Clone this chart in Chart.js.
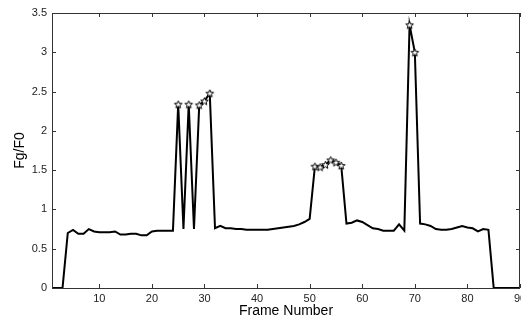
<!DOCTYPE html>
<html>
<head>
<meta charset="utf-8">
<script src="https://cdn.jsdelivr.net/npm/chart.js@4.4.1/dist/chart.umd.min.js"></script>
<style>
  html, body { margin: 0; padding: 0; background: #fff; overflow: hidden; }
</style>
</head>
<body>
<canvas id="fgChart" width="521" height="320"></canvas>
<script>
// Frame numbers (x) and Fg/F0 ratio (y)
const frames = [
   1,  2,  3,  4,  5,  6,  7,  8,  9, 10,
  11, 12, 13, 14, 15, 16, 17, 18, 19, 20,
  21, 22, 23, 24, 25, 26, 27, 28, 29, 30,
  31, 32, 33, 34, 35, 36, 37, 38, 39, 40,
  41, 42, 43, 44, 45, 46, 47, 48, 49, 50,
  51, 52, 53, 54, 55, 56, 57, 58, 59, 60,
  61, 62, 63, 64, 65, 66, 67, 68, 69, 70,
  71, 72, 73, 74, 75, 76, 77, 78, 79, 80,
  81, 82, 83, 84, 85, 86, 87, 88, 89, 90
];
const ratio = [
  0, 0, 0, 0.70, 0.74, 0.69, 0.69, 0.75, 0.72, 0.71,
  0.71, 0.71, 0.72, 0.68, 0.68, 0.69, 0.69, 0.67, 0.67, 0.72,
  0.73, 0.73, 0.73, 0.73, 2.34, 0.75, 2.34, 0.75, 2.33, 2.38,
  2.48, 0.76, 0.79, 0.76, 0.76, 0.75, 0.75, 0.74, 0.74, 0.74,
  0.74, 0.74, 0.75, 0.76, 0.77, 0.78, 0.79, 0.81, 0.84, 0.88,
  1.55, 1.54, 1.57, 1.63, 1.60, 1.56, 0.82, 0.83, 0.86, 0.84,
  0.80, 0.76, 0.75, 0.73, 0.73, 0.73, 0.81, 0.73, 3.35, 3.00,
  0.82, 0.81, 0.79, 0.75, 0.74, 0.74, 0.75, 0.77, 0.79, 0.77,
  0.76, 0.72, 0.75, 0.74, 0, 0, 0, 0, 0, 0
];
// frames marked with a pentagram
const peakFrames = [25, 27, 29, 30, 31, 51, 52, 53, 54, 55, 56, 69, 70];

const xTicks = [10, 20, 30, 40, 50, 60, 70, 80, 90];
const yTicks = [0, 0.5, 1, 1.5, 2, 2.5, 3, 3.5];

// MATLAB-like pentagram marker
function makeStar(r) {
    const size = Math.ceil(r * 2 + 3);
    const c = document.createElement('canvas');
    c.width = size; c.height = size;
    const ctx = c.getContext('2d');
    const cx = size / 2, cy = size / 2 + 0.5;
    ctx.beginPath();
    for (let i = 0; i < 10; i++) {
        const rr = i % 2 === 0 ? r : r * 0.42;
        const a = -Math.PI / 2 + i * Math.PI / 5;
        const px = cx + rr * Math.cos(a), py = cy + rr * Math.sin(a);
        if (i === 0) ctx.moveTo(px, py); else ctx.lineTo(px, py);
    }
    ctx.closePath();
    ctx.fillStyle = '#fff';
    ctx.fill();
    ctx.lineWidth = 1;
    ctx.strokeStyle = '#000';
    ctx.stroke();
    return c;
}
const starImg = makeStar(4);

// box around the plot with inward ticks on all four sides
const boxPlugin = {
    id: 'matlabBox',
    afterDatasetsDraw(chart) {
        const { ctx, chartArea: a, scales } = chart;
        ctx.save();
        ctx.strokeStyle = '#333';
        ctx.lineWidth = 1;
        ctx.strokeRect(Math.round(a.left) + 0.5, Math.round(a.top) + 0.5,
            Math.round(a.right - a.left) - 1, Math.round(a.bottom - a.top));
        ctx.beginPath();
        const tl = 4;
        xTicks.forEach(v => {
            const x = Math.round(scales.x.getPixelForValue(v)) + 0.5;
            ctx.moveTo(x, a.bottom); ctx.lineTo(x, a.bottom - tl);
            ctx.moveTo(x, a.top); ctx.lineTo(x, a.top + tl);
        });
        yTicks.forEach(v => {
            const y = Math.round(scales.y.getPixelForValue(v)) + 0.5;
            ctx.moveTo(a.left, y); ctx.lineTo(a.left + tl, y);
            ctx.moveTo(a.right, y); ctx.lineTo(a.right - tl, y);
        });
        ctx.stroke();
        ctx.restore();
    }
};

new Chart(document.getElementById('fgChart'), {
    type: 'line',
    data: {
        datasets: [{
            data: frames.map((f, i) => ({ x: f, y: ratio[i] })),
            borderColor: '#000',
            borderWidth: 2,
            tension: 0,
            pointStyle: ctx => peakFrames.includes(ctx.raw && ctx.raw.x) ? starImg : 'circle',
            pointRadius: ctx => peakFrames.includes(ctx.raw && ctx.raw.x) ? 4 : 0,
            pointHoverRadius: 0,
            clip: false
        }]
    },
    plugins: [boxPlugin],
    options: {
        responsive: false,
        animation: false,
        layout: { padding: { top: 13, right: 1, left: 0, bottom: 0 } },
        plugins: { legend: { display: false }, tooltip: { enabled: false } },
        scales: {
            x: {
                type: 'linear',
                min: 1,
                max: 90,
                grid: { display: false, drawTicks: false },
                border: { display: false },
                afterBuildTicks: s => { s.ticks = xTicks.map(v => ({ value: v })); },
                afterFit: s => { s.height = 32; s.paddingLeft = 0; s.paddingRight = 0; },
                ticks: {
                    padding: 4,
                    maxRotation: 0,
                    autoSkip: false,
                    color: '#222',
                    font: { family: 'Liberation Sans', size: 11 },
                    callback: v => String(v)
                },
                title: {
                    display: true,
                    text: 'Frame Number',
                    color: '#000',
                    padding: { top: 0, bottom: 0 },
                    font: { family: 'Liberation Sans', size: 14 }
                }
            },
            y: {
                min: 0,
                max: 3.5,
                grid: { display: false, drawTicks: false },
                border: { display: false },
                afterBuildTicks: s => { s.ticks = yTicks.map(v => ({ value: v })); },
                afterFit: s => { s.width = 52; s.paddingTop = 0; s.paddingBottom = 0; },
                ticks: {
                    padding: 5,
                    autoSkip: false,
                    color: '#222',
                    font: { family: 'Liberation Sans', size: 11 },
                    callback: v => String(v)
                },
                title: {
                    display: true,
                    text: 'Fg/F0',
                    color: '#000',
                    padding: { top: 12, bottom: 0 },
                    font: { family: 'Liberation Sans', size: 14 }
                }
            }
        }
    }
});
</script>
</body>
</html>
